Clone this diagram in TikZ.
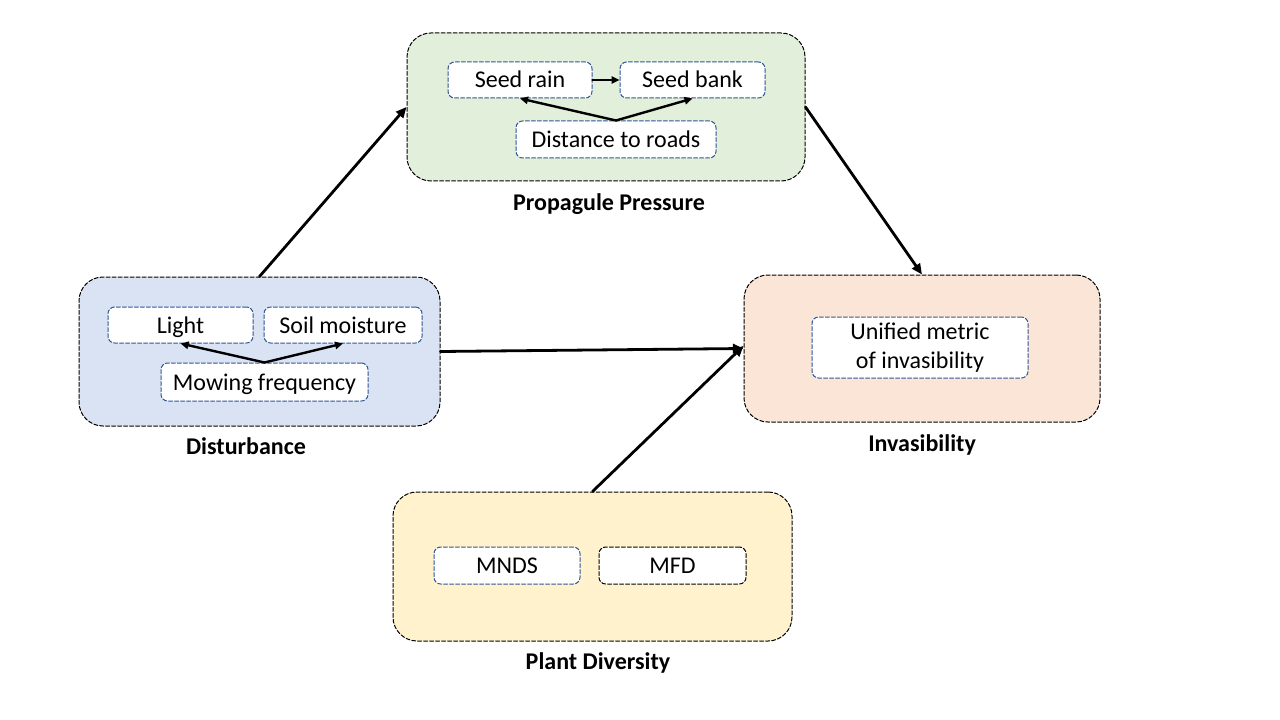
\documentclass[tikz,border=0pt]{standalone}
\usepackage{fontspec}
\setmainfont{Carlito}
\usetikzlibrary{arrows.meta}
\definecolor{Gfill}{RGB}{226,239,218}
\definecolor{Bfill}{RGB}{218,227,243}
\definecolor{Pfill}{RGB}{251,229,214}
\definecolor{Yfill}{RGB}{255,242,204}
\definecolor{Dline}{RGB}{47,85,151}

\begin{document}
\begin{tikzpicture}[x=0.75pt,y=-0.75pt,line cap=round,line join=round,
  group/.style={draw=black,line width=0.75pt,dash pattern=on 3pt off 1.5pt,rounded corners=18pt,inner sep=0pt},
  item/.style={draw=Dline,fill=white,line width=0.75pt,dash pattern=on 3pt off 1.5pt,rounded corners=5pt,inner sep=0pt,minimum height=27pt,font=\fontsize{18}{21.6}\selectfont},
  word/.style={item,text height=13pt,text depth=1pt},
  title/.style={font=\fontsize{18}{21.6}\selectfont\bfseries},
  link/.style={line width=2.1pt,-{Triangle[length=8pt,width=7pt]}},
  sublink/.style={line width=1.8pt,-{Triangle[length=6pt,width=5.5pt]}}]
\path[use as bounding box] (0,0) rectangle (1280,720);
% groups
\node[group,fill=Gfill,minimum width=298.5pt,minimum height=111pt] (prop) at (606,107) {};
\node[group,fill=Bfill,minimum width=270.75pt,minimum height=111.75pt] (dist) at (259.5,351.5) {};
\node[group,fill=Pfill,minimum width=267pt,minimum height=110.25pt] (inv) at (922,348.5) {};
\node[group,fill=Yfill,minimum width=299.25pt,minimum height=111.75pt] (plant) at (592.5,566.5) {};
% titles
\node[title] (propT) at (609,204) {Propagule Pressure};
\node[title] (distT) at (246,446) {Disturbance};
\node[title] (invT) at (922,445) {Invasibility};
\node[title] (plantT) at (598,663) {Plant Diversity};
% items
\node[word,minimum width=108pt] (rain) at (520,80) {Seed rain};
\node[word,minimum width=108.75pt] (bank) at (692.5,80) {Seed bank};
\node[word,minimum width=150pt,minimum height=27.75pt] (roads) at (616,139.5) {Distance to roads};
\node[word,minimum width=108.75pt] (light) at (180.5,325) {Light};
\node[word,minimum width=118.5pt] (soil) at (343,325) {Soil moisture};
\node[word,minimum width=155.25pt,minimum height=28.5pt] (mow) at (264.5,382) {Mowing frequency};
\node[item,minimum width=162pt,minimum height=45.75pt,align=center] (metric) at (920,347.5) {Unified metric\\of invasibility};
\node[word,minimum width=109.5pt,minimum height=27.75pt] (mnds) at (507,565.5) {MNDS};
\node[word,draw=black,minimum width=110.25pt,minimum height=27.75pt] (mfd) at (672.5,565.5) {MFD};
% inner links
\draw[sublink] (rain.east) -- (bank.west);
\draw[sublink] (roads.north) -- (rain.south);
\draw[sublink] (roads.north) -- (bank.south);
\draw[sublink] (mow.north) -- (light.south);
\draw[sublink] (mow.north) -- (soil.south);
% outer links
\draw[link] (dist.north) -- (prop.west);
\draw[link] (prop.east) -- (inv.north);
\draw[link] (dist.east) -- (inv.west);
\draw[link] (plant.north) -- ([yshift=2pt]inv.west);
\end{tikzpicture}
\end{document}
